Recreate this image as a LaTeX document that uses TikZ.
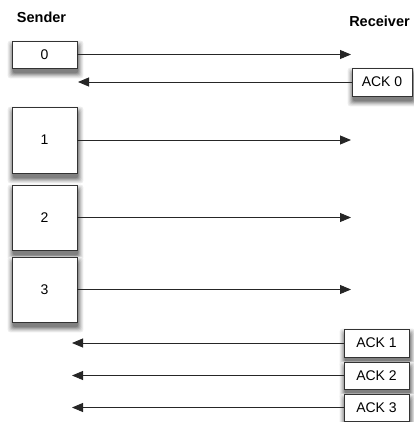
\documentclass[tikz,border=0pt]{standalone}
\usepackage{fontspec}
\setmainfont{Liberation Sans}
\usetikzlibrary{arrows.meta,backgrounds}
\tikzset{
  pbox/.style={draw=black!80, line width=0.9pt, fill=white, minimum width=65pt,
    inner sep=0pt, font=\fontsize{14}{16}\selectfont},
  conn/.style={draw=black!85, line width=0.9pt, -{Triangle[length=11pt,width=9pt]}},
  hdr/.style={font=\bfseries\fontsize{14.5}{16}\selectfont, inner sep=0pt}
}
\begin{document}
\begin{tikzpicture}[x=1pt,y=-1pt]
\useasboundingbox (0,0) rectangle (413,422);
\node[hdr] (snd) at (41.5,17.5) {Sender};
\node[hdr] (rcv) at (379.5,21) {Receiver};
\node[pbox, minimum height=27pt] (s0) at (44.5,54.5) {0};
\node[pbox, minimum height=66pt] (s1) at (44.5,140) {1};
\node[pbox, minimum height=65pt] (s2) at (44.5,217.5) {2};
\node[pbox, minimum height=65pt] (s3) at (44.5,289.5) {3};
\node[pbox, minimum width=60pt, minimum height=28pt] (a0) at (382,82) {ACK 0};
\node[pbox, minimum height=28pt] (a1) at (376.5,343) {ACK 1};
\node[pbox, minimum height=27pt] (a2) at (376.5,375.5) {ACK 2};
\node[pbox, minimum height=27pt] (a3) at (376.5,407.5) {ACK 3};
\begin{pgfonlayer}{background}
\foreach \n in {s0,s1,s2,s3,a0,a1,a2,a3}{
  \foreach \e/\c in {5/7,4/13,3/21,2/30,1/40,0/50}{
    \fill[black!\c, rounded corners=3pt] ([shift={(1-\e,5-\e)}]\n.north west) rectangle ([shift={(1+\e,5+\e)}]\n.south east);
  }
}
\end{pgfonlayer}
\coordinate (r0) at (351,54.5);
\coordinate (l0) at (78,82);
\coordinate (r1) at (351,140);
\coordinate (r2) at (351,217.5);
\coordinate (r3) at (351,289.5);
\coordinate (l1) at (72,343);
\coordinate (l2) at (72,375.5);
\coordinate (l3) at (72,407.5);
\draw[conn] (s0.east) -- (r0);
\draw[conn] (a0.west) -- (l0);
\draw[conn] (s1.east) -- (r1);
\draw[conn] (s2.east) -- (r2);
\draw[conn] (s3.east) -- (r3);
\draw[conn] (a1.west) -- (l1);
\draw[conn] (a2.west) -- (l2);
\draw[conn] (a3.west) -- (l3);
\end{tikzpicture}
\end{document}
